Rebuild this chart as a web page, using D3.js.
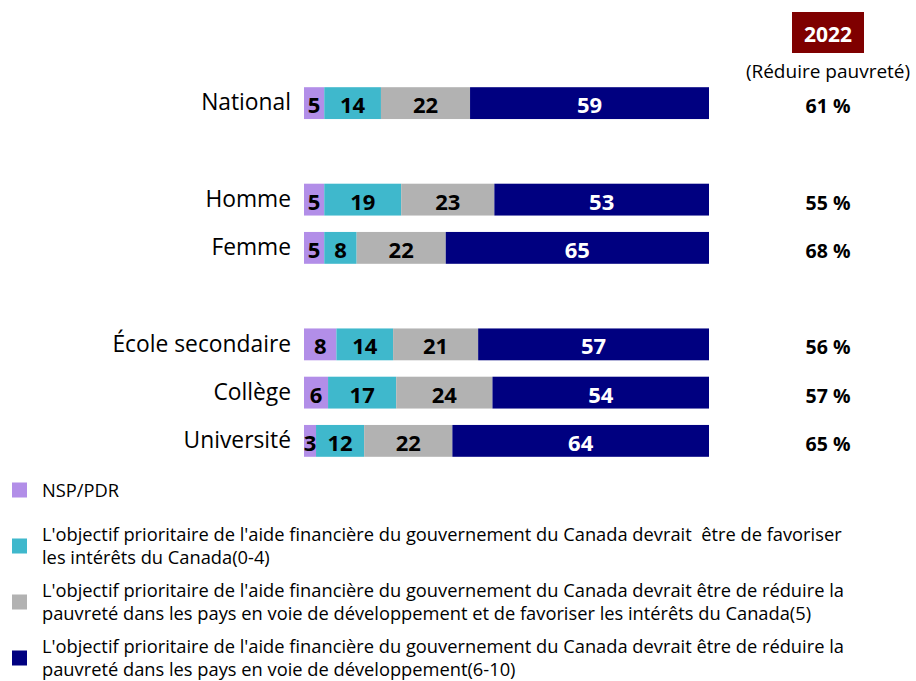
<!DOCTYPE html>
<html>
<head>
<meta charset="utf-8">
<script src="https://cdn.jsdelivr.net/npm/d3@7"></script>
<style>
	body { margin: 0; background: #fff; }
	svg { font-family: "Open Sans", Lato, sans-serif; }
</style>
</head>
<body>
<div id="chart"></div>
<script>
// rows (in display order) and the segments, left to right
const categories = ['National', 'Homme', 'Femme', 'École secondaire', 'Collège', 'Université'];
const nsp = [5, 5, 5, 8, 6, 3];
const interets = [14, 19, 8, 14, 17, 12];
const mixte = [22, 23, 22, 21, 24, 22];
const pauvrete = [59, 53, 65, 57, 54, 64];
const reduire2022 = [61, 55, 68, 56, 57, 65];
// blank slots between the groups
const slots = ['National', '_gap1', 'Homme', 'Femme', '_gap2', 'École secondaire', 'Collège', 'Université'];

const keys = ['nsp', 'interets', 'mixte', 'pauvrete'];
const colors = ['#b28ee8', '#3fb8cc', '#b2b2b2', '#000080'];
const legendLabels = [
	['NSP/PDR'],
	["L'objectif prioritaire de l'aide financière du gouvernement du Canada devrait  être de favoriser",
		"les intérêts du Canada(0-4)"],
	["L'objectif prioritaire de l'aide financière du gouvernement du Canada devrait être de réduire la",
		"pauvreté dans les pays en voie de développement et de favoriser les intérêts du Canada(5)"],
	["L'objectif prioritaire de l'aide financière du gouvernement du Canada devrait être de réduire la",
		"pauvreté dans les pays en voie de développement(6-10)"]
];

let data = categories.map((c, i) => ({
	cat: c,
	nsp: nsp[i],
	interets: interets[i],
	mixte: mixte[i],
	pauvrete: pauvrete[i],
	reduire: reduire2022[i]
}));

let svgWidth = 916
let svgHeight = 681

let svg = d3.select('#chart').append('svg')
	.attr('width', svgWidth)
	.attr('height', svgHeight)

let x = d3.scaleLinear()
	.domain([0, 1])
	.range([304, 709]);

let y = d3.scaleBand()
	.domain(slots)
	.range([79, 465])
	.paddingInner(0.34)
	.paddingOuter(0.17);

let series = d3.stack()
	.keys(keys)
	.offset(d3.stackOffsetExpand)(data);

// category labels
let axis_y = d3.axisLeft()
	.scale(y)
	.tickValues(categories)
	.tickSize(0)
	.tickPadding(13);

svg.append('g')
	.classed('y-axis', true)
	.attr('transform', `translate(${x(0)}, 0)`)
	.call(axis_y)
	.call(g => g.select('.domain').remove())
	.selectAll('text')
	.style('font-family', '"Open Sans", sans-serif')
	.style('font-size', '22.8px')
	.attr('fill', '#000');

let groups = svg.append('g')
	.classed('body', true)
	.selectAll('.g')
	.data(series)
	.enter()
	.append('g')
	.attr('class', d => 'g ' + d.key)
	.attr('fill', (d, i) => colors[i]);

groups.selectAll('rect')
	.data(d => d)
	.enter()
	.append('rect')
	.attr('x', d => x(d[0]))
	.attr('y', d => y(d.data.cat))
	.attr('width', d => x(d[1]) - x(d[0]))
	.attr('height', y.bandwidth());

groups.selectAll('text')
	.data(d => d.map(item => { item.key = d.key; return item; }))
	.enter()
	.append('text')
	.attr('x', d => (x(d[0]) + x(d[1])) / 2)
	.attr('y', d => y(d.data.cat) + y.bandwidth() / 2 + 2)
	.attr('dy', '0.36em')
	.attr('text-anchor', 'middle')
	.attr('font-size', '22px')
	.attr('font-weight', '700')
	.attr('fill', d => d.key === 'pauvrete' ? '#fff' : '#000')
	.text(d => d.data[d.key]);

// 2022 column
let colX = 828;
svg.append('rect')
	.attr('x', colX - 36)
	.attr('y', 12)
	.attr('width', 72)
	.attr('height', 41)
	.attr('fill', '#7f0000');

svg.append('text')
	.attr('x', colX)
	.attr('y', 34)
	.attr('dy', '0.36em')
	.attr('text-anchor', 'middle')
	.attr('fill', '#fff')
	.attr('font-size', '21px')
	.attr('font-weight', '700')
	.text('2022');

svg.append('text')
	.attr('x', colX)
	.attr('y', 78)
	.attr('text-anchor', 'middle')
	.attr('fill', '#000')
	.attr('font-size', '19px')
	.text('(Réduire pauvreté)');

svg.append('g')
	.selectAll('text')
	.data(data)
	.enter()
	.append('text')
	.attr('x', colX)
	.attr('y', d => y(d.cat) + y.bandwidth() / 2 + 3)
	.attr('dy', '0.36em')
	.attr('text-anchor', 'middle')
	.attr('fill', '#000')
	.attr('font-size', '19.5px')
	.attr('font-weight', '700')
	.text(d => d.reduire + ' %');

// legend
let legend = svg.selectAll('.legend')
	.data(legendLabels)
	.enter()
	.append('g')
	.attr('class', 'legend')
	.attr('transform', (d, i) => `translate(0, ${490 + i * 56})`);

legend.append('rect')
	.attr('x', 12)
	.attr('y', -7.5)
	.attr('width', 15)
	.attr('height', 15)
	.attr('fill', (d, i) => colors[i]);

legend.append('text')
	.attr('fill', '#000')
	.attr('font-size', '18.3px')
	.style('white-space', 'pre')
	.selectAll('tspan')
	.data(d => d.map((line, j) => ({ line: line, j: j, n: d.length })))
	.enter()
	.append('tspan')
	.attr('x', 42)
	.attr('y', d => (d.j - (d.n - 1) / 2) * 23.5)
	.attr('dy', '0.36em')
	.text(d => d.line);
</script>
</body>
</html>
